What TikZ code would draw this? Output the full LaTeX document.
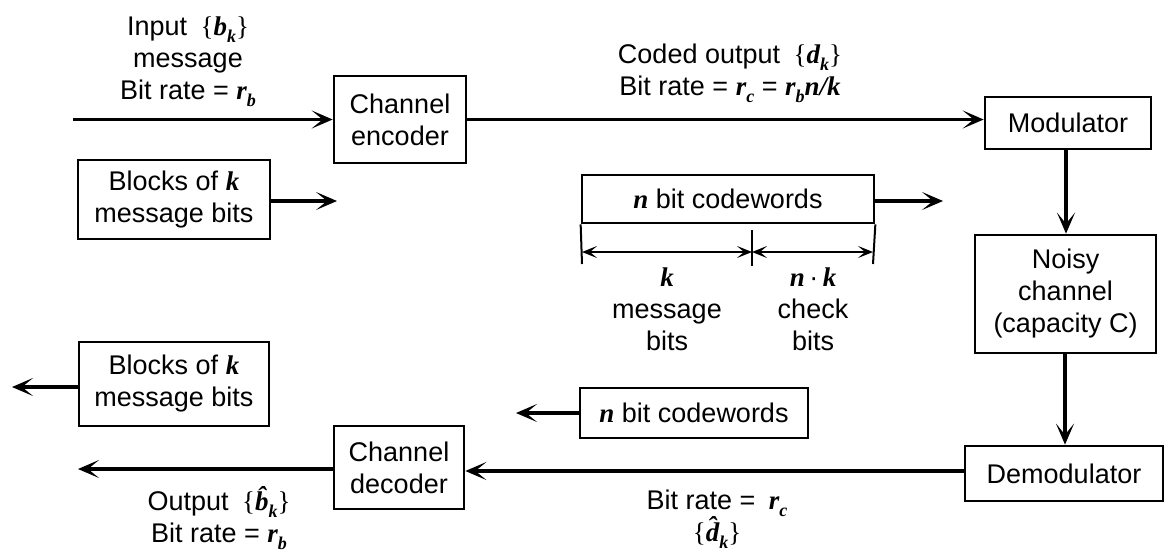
\documentclass[tikz,border=0pt]{standalone}
\usepackage{fontspec}
\setmainfont{Liberation Sans}
\newfontfamily\mifont{Liberation Serif}
\newcommand\mv[1]{{\mifont\bfseries\itshape #1}}
\newcommand\msub[1]{\raisebox{-0.25em}{\fontsize{18}{18}\selectfont\mv{#1}}}
\newcommand\hatv[1]{{\mifont\bfseries\itshape #1\char"0302}}
\usetikzlibrary{arrows.meta}
\tikzset{
  txt/.style={font=\fontsize{27}{32}\selectfont, align=center, inner sep=0pt},
  blk/.style={txt, draw, line width=2.7pt, rectangle},
  arr/.style={line width=3.4pt, -{Stealth[length=21pt,width=18pt,inset=11pt]}},
  dimarr/.style={line width=2pt, {Stealth[length=15pt,width=12pt,inset=7pt]}-{Stealth[length=15pt,width=12pt,inset=7pt]}},
  thin/.style={line width=2pt}
}
\begin{document}
\begin{tikzpicture}[x=1pt,y=-1pt]
\useasboundingbox[fill=white] (0,0) rectangle (1166,552);
% blocks
\node[blk, minimum width=132pt, minimum height=87pt] (enc) at (400,119.5) {Channel\\encoder};
\node[blk, minimum width=166pt, minimum height=52pt] (mod) at (1068,123) {Modulator};
\node[blk, minimum width=181pt, minimum height=118pt] (noisy) at (1065.5,294) {Noisy\\channel\\(capacity C)};
\node[blk, minimum width=198pt, minimum height=55pt] (demod) at (1064,473.5) {Demodulator};
\node[blk, minimum width=130pt, minimum height=83pt] (dec) at (399,467.5) {Channel\\decoder};
\node[blk, minimum width=192pt, minimum height=79pt] (blk1) at (174,199.5) {Blocks of \mv{k}\\message bits};
\node[blk, minimum width=190pt, minimum height=84pt] (blk2) at (174,384) {Blocks of \mv{k}\\message bits};
\node[blk, minimum width=292pt, minimum height=48pt] (cw1) at (728,199) {\mv{n} bit codewords};
\node[blk, minimum width=228pt, minimum height=50pt] (cw2) at (694,413) {\mv{n} bit codewords};
% free ends
\coordinate (in) at (73,119.5);
\coordinate (b1end) at (337,201);
\coordinate (c1end) at (943,201);
\coordinate (outend) at (78,469);
\coordinate (b2end) at (12,387);
\coordinate (c2end) at (516,413);
% connectors
\draw[arr] (in) -- (enc.west |- in);
\draw[arr] (enc.east) -- (enc.east -| mod.west);
\draw[arr] (blk1.east |- b1end) -- (b1end);
\draw[arr] (cw1.east |- c1end) -- (c1end);
\draw[arr] (mod.south -| 1066,0) -- (noisy.north -| 1066,0);
\draw[arr] (noisy.south -| 1065,0) -- (demod.north -| 1065,0);
\draw[arr] (demod.west |- 0,471) -- (dec.east |- 0,471);
\draw[arr] (dec.west |- outend) -- (outend);
\draw[arr] (blk2.west |- b2end) -- (b2end);
\draw[arr] (cw2.west) -- (c2end);
% dimension lines
\coordinate (dl) at (582,252);
\coordinate (dm) at (752,252);
\coordinate (dr) at (873,252);
\draw[thin] (cw1.south west) -- (582,264);
\draw[thin] (cw1.south east) -- (873,264);
\draw[thin] (752,230) -- (752,266);
\draw[dimarr] (dl) -- (dm);
\draw[dimarr] (dm) -- (dr);
% labels
\node[txt] (lin) at (188,62) {Input\enspace{\mifont\{}\mv{b}\msub{k}{\mifont\}}\\message\\Bit rate = \mv{r}\msub{b}};
\node[txt] (lcod) at (730,73) {Coded output\enspace{\mifont\{}\mv{d}\msub{k}{\mifont\}}\\Bit rate = \mv{r}\msub{c} = \mv{r}\msub{b}\mv{n/k}};
\node[txt] (lk) at (667,309) {\mv{k}\\message\\bits};
\node[txt] (lnk) at (813,309) {\mv{n\,{\normalfont\textperiodcentered}\,k}\\check\\bits};
\node[txt] (lout) at (219,518) {Output\enspace{\mifont\{}\hatv{b}\msub{k}{\mifont\}}\\Bit rate = \mv{r}\msub{b}};
\node[txt] (lrc) at (717,519) {Bit rate =\enspace\mv{r}\msub{c}\\{\mifont\{}\hatv{d}\msub{k}{\mifont\}}};
\end{tikzpicture}
\end{document}
